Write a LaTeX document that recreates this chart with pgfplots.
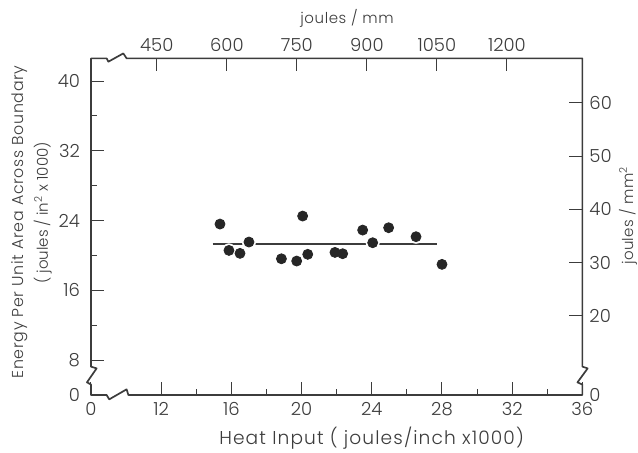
\documentclass[border=0pt]{standalone}
\usepackage{fontspec}
\setmainfont{Poppins}[UprightFont={* Light}]
\usepackage{pgfplots}
\pgfplotsset{compat=1.18}

\definecolor{ink}{HTML}{3C3C3C}
\definecolor{dot}{HTML}{262626}

\newcommand\ticksize{\fontsize{9}{10}\selectfont}

\pgfplotstableread{
x      y
15.35  23.60
15.86  20.58
16.49  20.24
17.00  21.54
18.85  19.62
19.72  19.36
20.06  24.52
20.35  20.13
21.90  20.35
22.34  20.20
23.48  22.91
24.05  21.46
24.96  23.18
26.52  22.15
28.00  18.98
}\points

\pgfplotsset{
  frame/.style={
    at={(45.5pt,29pt)}, anchor=south west,
    scale only axis, width=245.7pt, height=168.3pt,
    axis line style={draw=none},
    tick align=inside,
    major tick length=6.5pt, minor tick length=3.2pt,
    every tick/.style={ink, line width=0.5pt},
    tick label style={font=\ticksize, text=ink},
    clip=false,
  },
}

\begin{document}
\begin{tikzpicture}
\useasboundingbox (0,0) rectangle (319pt,226.5pt);

% bottom / left scales (joules/inch x1000, joules/in^2 x1000)
\begin{axis}[
  frame,
  xmin=8, xmax=36, ymin=4, ymax=42.6,
  axis x line*=bottom, axis y line*=left,
  xtick={8,12,16,20,24,28,32,36},
  xticklabels={0,12,16,20,24,28,32,36},
  minor xtick={14,18,22,26,30,34},
  ytick={4,8,16,24,32,40},
  yticklabels={0,8,16,24,32,40},
  minor ytick={12,20,28,36},
  yticklabel style={xshift=-2pt},
  xlabel={Heat Input ( joules/inch x1000)},
  xlabel style={at={(axis description cs:0.571,-0.128)}, anchor=center,
    font=\fontsize{9.3}{10}\selectfont\addfontfeature{LetterSpace=6}, text=ink},
  ylabel={Energy Per Unit Area Across Boundary},
  ylabel style={at={(axis description cs:-0.1445,0.514)}, anchor=center,
    font=\fontsize{7.9}{9}\selectfont\addfontfeature{LetterSpace=4.4}, text=ink},
]
% broken frame
\draw[ink, line width=0.85pt, line join=round]
  (axis cs:8,4) -- (axis cs:8,5.2) -- (axis cs:7.77,5.45) -- (axis cs:8.32,7.05)
  -- (axis cs:8,7.25) -- (axis cs:8,42.6) -- (axis cs:8.89,42.6)
  -- (axis cs:8.99,42.22) -- (axis cs:9.84,43.17) -- (axis cs:10.03,42.6)
  -- (axis cs:36,42.6) -- (axis cs:36,7.25) -- (axis cs:36.3,7.05)
  -- (axis cs:35.72,5.45) -- (axis cs:36,5.2) -- (axis cs:36,4)
  -- (axis cs:10.13,4) -- (axis cs:10.03,4.65) -- (axis cs:9.04,3.5)
  -- (axis cs:8.89,4) -- cycle;

\node[rotate=90, font=\fontsize{7.5}{9}\selectfont, text=ink]
  at (axis description cs:-0.0983,0.541) {( joules / in\textsuperscript{2} x 1000)};

% mean line, broken where the dots cross it
\addplot[ink, line width=0.9pt] coordinates {(14.93,21.3) (27.69,21.3)};
\addplot[white, only marks, mark=*, mark size=3.3pt] table[x=x, y=y] {\points};
\addplot[dot, only marks, mark=*, mark size=2.5pt] table[x=x, y=y] {\points};
\end{axis}

% top / right scales (joules/mm, joules/mm^2)
\begin{axis}[
  frame,
  xmin=309, xmax=1361.7, ymin=5.16, ymax=68.33,
  axis x line*=top, axis y line*=right,
  xtick={450,600,750,900,1050,1200},
  xticklabels={450,600,750,900,1050,1200},
  ytick={5.16,20,30,40,50,60},
  yticklabels={0,20,30,40,50,60},
]
\node[font=\fontsize{7.5}{9}\selectfont\addfontfeature{LetterSpace=4}, text=ink]
  at (axis description cs:0.521,1.12) {joules / mm};
\node[rotate=90, font=\fontsize{7.5}{9}\selectfont\addfontfeature{LetterSpace=2}, text=ink]
  at (axis description cs:1.0926,0.533) {joules / mm\textsuperscript{2}};
\end{axis}
\end{tikzpicture}
\end{document}
